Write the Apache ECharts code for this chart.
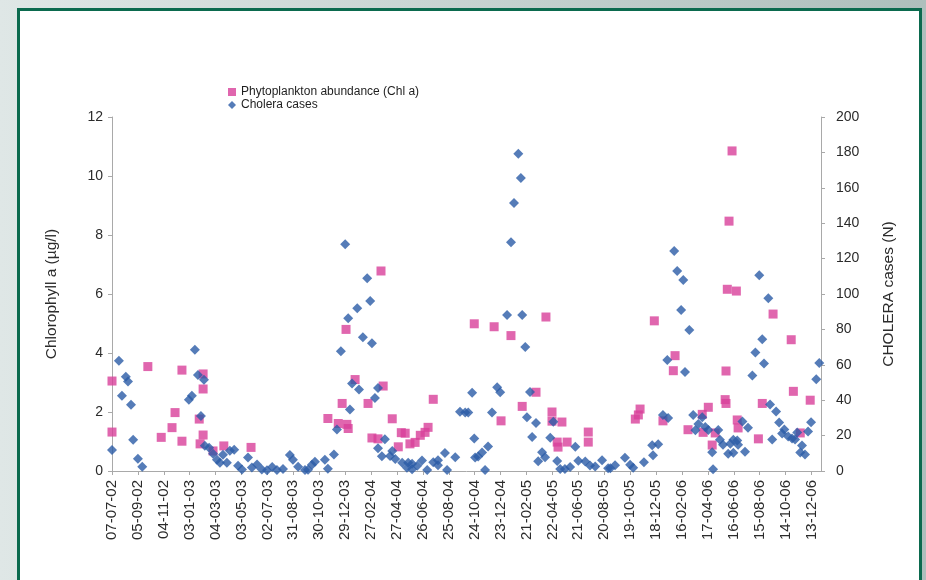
<!DOCTYPE html>
<html>
<head>
<meta charset="utf-8">
<script src="https://cdn.jsdelivr.net/npm/echarts@6/dist/echarts.min.js"></script>
<style>
html,body{margin:0;padding:0;background:#fff;}
#chart{width:926px;height:580px;}
</style>
</head>
<body>
<div id="chart"></div>
<script>
// x values are days counted from 07-07-2002
const tickLabels = ['07-07-02','05-09-02','04-11-02','03-01-03','04-03-03','03-05-03','02-07-03','31-08-03','30-10-03','29-12-03','27-02-04','27-04-04','26-06-04','25-08-04','24-10-04','23-12-04','21-02-05','22-04-05','21-06-05','20-08-05','19-10-05','18-12-05','16-02-06','17-04-06','16-06-06','15-08-06','14-10-06','13-12-06'];

const chlDay = [0,0,83,114,139,146,162,162,202,204,211,211,211,234,259,322,500,524,533,542,544,547,563,593,602,616,623,628,649,663,670,679,690,702,714,725,732,744,839,885,901,924,950,982,1005,1019,1019,1031,1033,1042,1054,1103,1103,1212,1219,1223,1256,1276,1300,1304,1334,1367,1369,1381,1390,1397,1420,1422,1422,1425,1429,1436,1446,1448,1450,1497,1506,1531,1573,1578,1594,1617];
const chlVal = [3.05,1.32,3.54,1.14,1.47,1.98,3.42,1.01,1.76,0.92,3.29,2.78,1.22,0.68,0.85,0.80,1.78,1.61,2.29,4.80,1.58,1.44,3.10,2.29,1.12,1.09,6.78,2.88,1.77,0.82,1.30,1.28,0.92,0.97,1.21,1.31,1.48,2.43,4.99,4.89,1.70,4.59,2.19,2.67,5.22,2.00,1.69,0.98,0.81,1.66,0.98,1.32,0.98,1.76,1.90,2.10,5.09,1.70,3.40,3.91,1.40,1.92,1.31,2.16,0.88,1.29,2.42,2.29,3.39,6.16,8.47,10.85,6.10,1.73,1.46,1.09,2.29,5.32,4.45,2.70,1.29,2.40];

const cholDay = [0,16,23,32,37,44,49,60,70,178,185,192,199,206,213,215,225,234,243,250,257,266,273,283,292,301,315,324,336,347,359,371,382,396,412,419,431,447,454,463,470,493,500,514,521,530,540,547,551,556,568,572,581,591,598,602,609,616,616,625,632,644,649,656,672,683,686,695,695,707,718,730,744,755,755,771,776,795,806,818,825,834,839,841,848,857,864,871,880,892,899,915,924,931,941,947,950,957,961,968,973,982,987,996,1003,1015,1022,1031,1038,1049,1061,1073,1080,1096,1107,1119,1135,1149,1154,1165,1188,1200,1207,1232,1251,1253,1265,1276,1286,1288,1302,1309,1318,1323,1327,1337,1346,1351,1358,1367,1374,1381,1390,1392,1404,1408,1415,1427,1432,1439,1439,1448,1450,1460,1466,1473,1483,1490,1499,1506,1510,1520,1524,1529,1538,1545,1552,1557,1566,1575,1582,1587,1594,1598,1605,1612,1619,1631,1638];
const cholVal = [11.9,62.3,42.5,53.3,50.5,37.4,17.6,6.9,2.4,40.2,42.5,68.5,54.3,31.1,51.5,14.2,13.1,9.7,6.3,4.6,9.2,4.7,11.5,12.0,3.0,0.8,7.6,2.0,3.7,0.9,0.4,2.2,0.5,1.1,9.1,6.3,2.4,0.5,0.7,3.6,5.2,6.4,1.3,9.3,23.4,67.6,128.1,86.3,34.8,49.5,91.9,46.1,75.5,108.9,96.0,72.2,41.2,46.9,12.9,8.4,18.0,8.5,11.3,6.8,4.6,1.8,4.7,4.1,1.0,3.0,5.9,0.5,4.9,6.1,3.2,10.1,0.5,7.8,33.5,33.0,33.0,44.2,18.3,7.6,8.2,10.4,0.5,13.8,33.1,47.3,44.5,88.1,129.3,151.4,179.2,165.6,88.2,70.0,30.4,44.6,19.2,27.1,5.5,10.6,7.8,18.8,27.8,5.6,1.1,1.2,2.3,13.7,5.8,5.3,3.1,2.6,6.1,1.6,1.6,3.3,7.5,3.5,1.8,4.9,14.5,8.9,15.1,31.6,62.7,29.9,124.3,113.0,90.9,107.9,56.0,79.6,31.6,23.0,26.5,30.4,24.8,23.1,10.6,1.0,23.2,17.6,14.8,9.8,15.4,17.7,10.3,17.2,14.9,27.9,10.9,24.5,54.0,67.0,110.6,74.4,60.8,97.6,37.6,17.8,33.6,27.4,21.2,23.5,19.5,18.4,17.8,21.8,10.4,14.4,9.3,22.3,27.5,51.9,61.0];

const chlName = 'Phytoplankton abundance (Chl a)';
const cholName = 'Cholera cases';

const FONT = 'Liberation Sans, Arial, sans-serif';
const TEXT = '#2b2b2b';
const AXIS = '#a9a9a9';

const chart = echarts.init(document.getElementById('chart'));
chart.setOption({
  animation: false,
  textStyle: { fontFamily: FONT },
  graphic: [
    { type: 'rect', z: -100, silent: true, shape: { x: 0, y: 0, width: 926, height: 580 },
      style: { fill: new echarts.graphic.LinearGradient(0, 0, 1, 0, [{ offset: 0, color: '#dfe7e6' }, { offset: 1, color: '#aebfbc' }]) } },
    { type: 'rect', z: -99, silent: true, shape: { x: 18.5, y: 9.5, width: 902, height: 600 },
      style: { fill: '#ffffff', stroke: '#0b6a4e', lineWidth: 3 } }
  ],
  legend: {
    orient: 'vertical', left: 223, top: 81, itemWidth: 8, itemHeight: 8, itemGap: 1,
    textStyle: { fontSize: 12, color: '#1e1e1e', fontFamily: FONT },
    data: [{ name: chlName, icon: 'rect' }, { name: cholName, icon: 'diamond' }]
  },
  grid: { left: 112, right: 105, top: 117, bottom: 109 },
  xAxis: {
    type: 'value', min: 0, max: 1642, interval: 60,
    splitLine: { show: false },
    axisLine: { onZero: false, lineStyle: { color: AXIS } },
    axisTick: { length: 4, lineStyle: { color: AXIS } },
    axisLabel: {
      rotate: 90, fontSize: 15, color: TEXT, margin: 9, showMaxLabel: false,
      formatter: v => (v % 60 === 0 && tickLabels[v / 60]) ? tickLabels[v / 60] : ''
    }
  },
  yAxis: [
    {
      type: 'value', min: 0, max: 12, interval: 2, position: 'left',
      name: 'Chlorophyll a (µg/l)', nameLocation: 'middle', nameGap: 52, nameRotate: 90,
      nameTextStyle: { fontSize: 15.5, color: TEXT },
      splitLine: { show: false },
      axisLine: { show: true, lineStyle: { color: AXIS } },
      axisTick: { show: true, length: 4, lineStyle: { color: AXIS } },
      axisLabel: { fontSize: 14, color: TEXT, margin: 9 }
    },
    {
      type: 'value', min: 0, max: 200, interval: 20, position: 'right',
      name: 'CHOLERA cases (N)', nameLocation: 'middle', nameGap: 60, nameRotate: 90,
      nameTextStyle: { fontSize: 15.5, color: TEXT },
      splitLine: { show: false },
      axisLine: { show: true, lineStyle: { color: AXIS } },
      axisTick: { show: true, length: 4, lineStyle: { color: AXIS } },
      axisLabel: { fontSize: 14, color: TEXT, margin: 15 }
    }
  ],
  series: [
    {
      name: chlName, type: 'scatter', yAxisIndex: 0, symbol: 'rect', symbolSize: 9,
      itemStyle: { color: '#d8409a' },
      data: chlDay.map((d, i) => [d, chlVal[i]])
    },
    {
      name: cholName, type: 'scatter', yAxisIndex: 1, symbol: 'diamond', symbolSize: 10,
      itemStyle: { color: '#2a5ba6' },
      data: cholDay.map((d, i) => [d, cholVal[i]])
    }
  ]
});
</script>
</body>
</html>
